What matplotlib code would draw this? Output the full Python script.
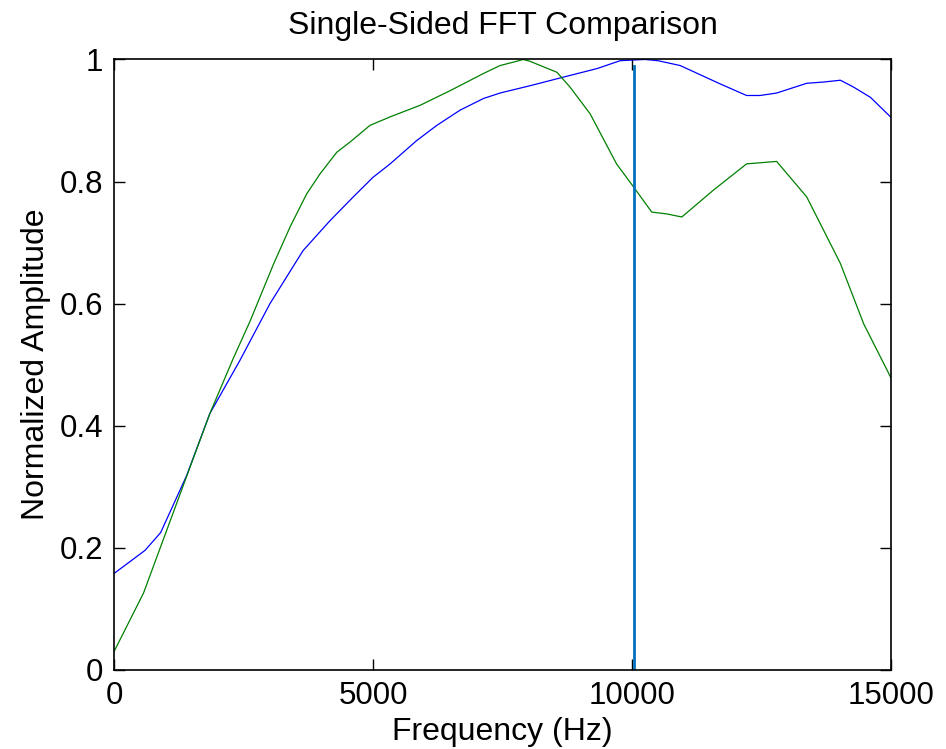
import matplotlib
matplotlib.use("Agg")
import matplotlib.pyplot as plt

plt.rcParams['font.family'] = ['Liberation Sans', 'DejaVu Sans']

blue_f = [0, 600, 900, 1400, 1850, 2430, 3010, 3650, 4170, 4620, 5000, 5330, 5840, 6230, 6680, 7130, 7450,
          8030, 8670, 9320, 9770, 10000, 10250, 10500, 10930, 11700, 12210, 12470, 12790, 13370, 13690,
          14020, 14270, 14600, 15000]
blue_a = [0.158, 0.196, 0.225, 0.318, 0.420, 0.507, 0.600, 0.687, 0.736, 0.775, 0.807, 0.829, 0.867, 0.892,
          0.917, 0.936, 0.945, 0.957, 0.971, 0.985, 0.998, 0.999, 1.0, 0.998, 0.990, 0.960, 0.941, 0.941,
          0.945, 0.961, 0.963, 0.966, 0.955, 0.938, 0.905]

green_f = [0, 570, 1850, 2300, 2630, 3080, 3400, 3720, 3980, 4300, 4560, 4940, 5330, 5910, 6490, 7130,
           7450, 7770, 7900, 8030, 8550, 8800, 9190, 9700, 10030, 10380, 10670, 10960, 11570, 12210, 12790,
           13370, 14020, 14470, 15000]
green_a = [0.030, 0.126, 0.420, 0.510, 0.572, 0.665, 0.726, 0.780, 0.813, 0.848, 0.865, 0.892, 0.906, 0.925,
           0.949, 0.977, 0.990, 0.997, 1.0, 0.997, 0.979, 0.955, 0.911, 0.829, 0.791, 0.750, 0.747, 0.742,
           0.786, 0.829, 0.833, 0.775, 0.666, 0.567, 0.478]

marker_f = [10030, 10030]
marker_a = [0.0, 0.989]

title = 'Single-Sided FFT Comparison'
xlabel = 'Frequency (Hz)'
ylabel = 'Normalized Amplitude'
xticks = [0, 5000, 10000, 15000]
yticks = [0, 0.2, 0.4, 0.6, 0.8, 1]
ytick_labels = ['0', '0.2', '0.4', '0.6', '0.8', '1']

fig = plt.figure(figsize=(9.46, 7.49), dpi=100)
ax = fig.add_axes([0.1205, 0.1055, 0.8215, 0.8151])
ax.plot(blue_f, blue_a, color=(0, 0, 1), lw=0.9)
ax.plot(green_f, green_a, color=(0, 0.5, 0), lw=0.9)
ax.plot(marker_f, marker_a, color=(0, 0.447, 0.741), lw=2)

ax.set_xlim(0, 15000)
ax.set_ylim(0, 1)
ax.set_xticks(xticks)
ax.set_xticklabels([str(v) for v in xticks])
ax.set_yticks(yticks)
ax.set_yticklabels(ytick_labels)
ax.tick_params(direction='in', length=8, width=1, top=True, right=True, labelsize=22.5, pad=8)
for s in ax.spines.values():
    s.set_linewidth(1.2)
ax.set_title(title, fontsize=23, pad=18)
ax.set_xlabel(xlabel, fontsize=23, labelpad=4)
ax.set_ylabel(ylabel, fontsize=23, labelpad=6)

fig.savefig('out.png', dpi=100)
